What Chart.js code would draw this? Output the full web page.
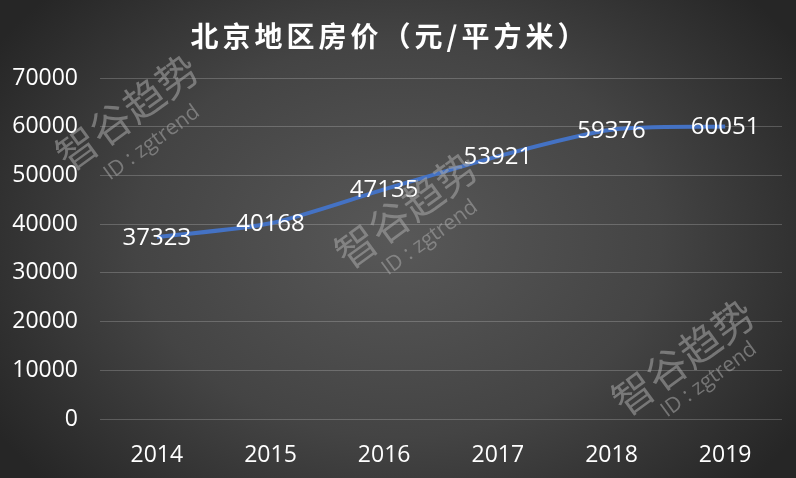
<!DOCTYPE html>
<html>
<head>
<meta charset="utf-8">
<script src="https://cdn.jsdelivr.net/npm/chart.js@4"></script>
<style>
  html, body { margin: 0; padding: 0; }
  #wrap {
    width: 796px; height: 478px;
    background: radial-gradient(ellipse 60% 75% at 50% 50%, #585858 0%, #444444 55%, #262626 100%);
  }
</style>
</head>
<body>
<div id="wrap"><canvas id="chart" width="796" height="478"></canvas></div>
<script>
const years = ['2014', '2015', '2016', '2017', '2018', '2019'];
const prices = [37323, 40168, 47135, 53921, 59376, 60051];
const titleText = '北京地区房价（元/平方米）';
const watermarkMain = '智谷趋势';
const watermarkSub = 'ID : zgtrend';

const fontFamily = '"Open Sans", "Noto Sans", sans-serif';

// タイトル
const titlePlugin = {
    id: 'titleText',
    afterDraw: (chart) => {
        const ctx = chart.ctx;
        ctx.save();
        ctx.font = 'bold 28px "Noto Sans CJK SC", sans-serif';
        ctx.letterSpacing = '4px';
        ctx.fillStyle = '#ffffff';
        ctx.textAlign = 'center';
        ctx.textBaseline = 'middle';
        ctx.fillText(titleText, 390, 36);
        ctx.restore();
    }
};

// 透かし
const watermarkPlugin = {
    id: 'watermark',
    afterDraw: (chart) => {
        const ctx = chart.ctx;
        const spots = [[127, 112, 152, 143], [406, 210, 430, 238], [683, 357, 709, 380]];
        ctx.save();
        ctx.fillStyle = 'rgba(170,170,170,0.55)';
        ctx.textAlign = 'center';
        ctx.textBaseline = 'middle';
        spots.forEach(s => {
            ctx.save();
            ctx.translate(s[0], s[1]);
            ctx.rotate(-36 * Math.PI / 180);
            ctx.font = '41px "Noto Sans CJK SC", sans-serif';
            ctx.fillText(watermarkMain, 0, 0);
            ctx.restore();
            ctx.save();
            ctx.translate(s[2], s[3]);
            ctx.rotate(-36 * Math.PI / 180);
            ctx.font = '21px ' + fontFamily;
            ctx.fillText(watermarkSub, 0, 0);
            ctx.restore();
        });
        ctx.restore();
    }
};

// データラベル
const valueLabelPlugin = {
    id: 'valueLabels',
    afterDatasetsDraw: (chart) => {
        const ctx = chart.ctx;
        const meta = chart.getDatasetMeta(0);
        ctx.save();
        ctx.font = '24px ' + fontFamily;
        ctx.fillStyle = '#ffffff';
        ctx.textAlign = 'center';
        ctx.textBaseline = 'middle';
        meta.data.forEach((pt, i) => {
            ctx.fillText(String(prices[i]), pt.x, pt.y + 1);
        });
        ctx.restore();
    }
};

const ctx = document.getElementById('chart').getContext('2d');
new Chart(ctx, {
    type: 'line',
    data: {
        labels: years,
        datasets: [{
            label: '',
            data: prices,
            borderColor: '#4472c4',
            borderWidth: 4,
            pointRadius: 0,
            tension: 0.25,
            fill: false
        }]
    },
    options: {
        responsive: false,
        animation: false,
        devicePixelRatio: 1,
        layout: {
            padding: { top: 78, right: 14, left: 0, bottom: 0 }
        },
        scales: {
            x: {
                offset: true,
                grid: { display: false },
                border: { display: false },
                ticks: {
                    color: '#ffffff',
                    font: { family: fontFamily, size: 23 },
                    padding: 15
                },
                afterFit: (scale) => { scale.height = 59; }
            },
            y: {
                min: 0,
                max: 70000,
                ticks: {
                    stepSize: 10000,
                    color: '#ffffff',
                    font: { family: fontFamily, size: 23 },
                    padding: 22,
                    callback: (value) => String(value)
                },
                grid: {
                    color: 'rgba(255,255,255,0.2)',
                    lineWidth: 1,
                    drawTicks: false
                },
                border: { display: false },
                afterFit: (scale) => { scale.width = 100; }
            }
        },
        plugins: {
            legend: { display: false },
            title: { display: false },
            tooltip: { enabled: false }
        }
    },
    plugins: [watermarkPlugin, valueLabelPlugin, titlePlugin]
});
</script>
</body>
</html>
